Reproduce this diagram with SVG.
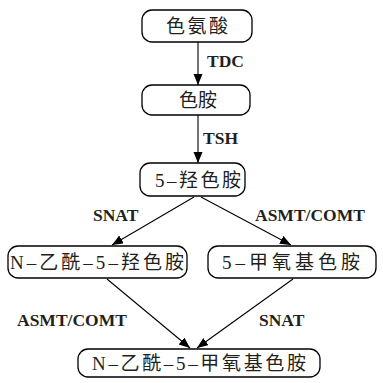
<svg xmlns="http://www.w3.org/2000/svg" width="383" height="383" viewBox="0 0 383 383">
<style>
.box{fill:#fff;stroke:#000;stroke-width:1.3}
.t{font-family:"Liberation Serif","Noto Sans CJK SC",serif;font-size:19px;text-anchor:middle;fill:#231f20}
.lab{font-family:"Liberation Serif",serif;font-weight:bold;font-size:17.5px;fill:#231f20}
.c{stroke:#000;stroke-width:1.1;fill:none;marker-end:url(#ah)}
</style>
<defs>
<marker id="ah" markerUnits="userSpaceOnUse" markerWidth="12" markerHeight="10" refX="11" refY="4.5" orient="auto">
<path d="M0,0 L11,4.5 L0,9 Z" fill="#000"/>
</marker>
</defs>
<rect width="383" height="383" fill="#fff"/>
<g id="connectors">
<line class="c" x1="198" y1="42" x2="198" y2="85"/>
<line class="c" x1="198" y1="115" x2="198" y2="163"/>
<line class="c" x1="194" y1="197" x2="112" y2="245"/>
<line class="c" x1="201" y1="197" x2="291" y2="245"/>
<line class="c" x1="107" y1="279" x2="190" y2="348"/>
<line class="c" x1="293" y1="279" x2="197" y2="348"/>
<text class="lab" x="93" y="221">SNAT</text>
<text class="lab" x="207" y="67">TDC</text>
<text class="lab" x="203" y="144">TSH</text>
<text class="lab" x="255" y="221">ASMT/COMT</text>
<text class="lab" x="17" y="326">ASMT/COMT</text>
<text class="lab" x="259" y="326">SNAT</text>
</g>
<g id="n1"><rect class="box" x="142" y="10" width="110" height="32" rx="10"/><text class="t" x="197" y="33" textLength="62">色氨酸</text></g>
<g id="n2"><rect class="box" x="142" y="85" width="108" height="30" rx="10"/><text class="t" x="198" y="107">色胺</text></g>
<g id="n3"><rect class="box" x="140" y="163" width="105" height="33" rx="10"/><text class="t" x="198" y="187" textLength="86">5–羟色胺</text></g>
<g id="n4"><rect class="box" x="8" y="246" width="179" height="32" rx="10"/><text class="t" x="97" y="269" textLength="174">N–乙酰–5–羟色胺</text></g>
<g id="n5"><rect class="box" x="208" y="246" width="168" height="32" rx="10"/><text class="t" x="291" y="269" textLength="138">5–甲氧基色胺</text></g>
<g id="n6"><rect class="box" x="78" y="349" width="242" height="28" rx="10"/><text class="t" x="199" y="370" textLength="214">N–乙酰–5–甲氧基色胺</text></g>
</svg>
